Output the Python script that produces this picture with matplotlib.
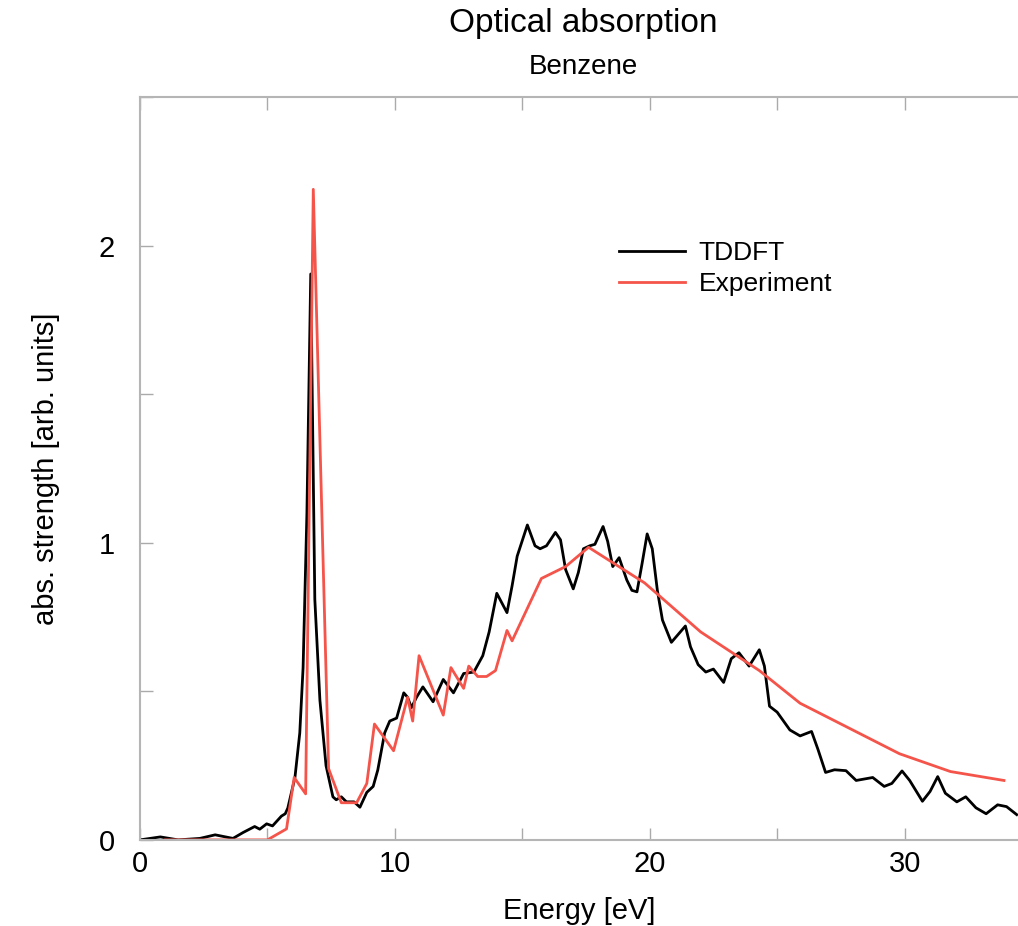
import numpy as np
import matplotlib
matplotlib.use("Agg")
import matplotlib.pyplot as plt
from matplotlib.ticker import MultipleLocator, NullFormatter

# TDDFT spectrum (black)
tddft_e = [0.0, 0.8, 1.5, 2.35, 2.95, 3.65, 4.05, 4.5, 4.7, 4.97, 5.2, 5.55, 5.7,
           5.8, 6.08, 6.27, 6.4, 6.55, 6.7, 6.86, 7.06, 7.3, 7.57, 7.7, 7.9, 8.1,
           8.4, 8.63, 8.9, 9.15, 9.33, 9.6, 9.8, 10.07, 10.35, 10.5, 10.65, 10.85,
           11.1, 11.5, 11.9, 12.3, 12.7, 13.1, 13.45, 13.7, 14.0, 14.4, 14.6, 14.8,
           15.2, 15.5, 15.7, 15.95, 16.3, 16.5, 16.7, 17.0, 17.2, 17.4, 17.65,
           17.85, 18.17, 18.35, 18.55, 18.8, 19.1, 19.3, 19.5, 19.7, 19.9, 20.1,
           20.3, 20.5, 20.85, 21.05, 21.4, 21.6, 21.9, 22.2, 22.5, 22.9, 23.2, 23.5,
           23.9, 24.3, 24.5, 24.7, 25.0, 25.5, 25.9, 26.35, 26.6, 26.9, 27.25,
           27.7, 28.1, 28.75, 29.2, 29.5, 29.9, 30.2, 30.7, 31.0, 31.3, 31.6,
           32.05, 32.4, 32.8, 33.2, 33.65, 34.0, 34.4]
tddft_a = [0.0, 0.01, 0.0, 0.005, 0.017, 0.005, 0.025, 0.045, 0.036, 0.054, 0.047,
           0.08, 0.088, 0.107, 0.21, 0.36, 0.58, 1.1, 1.905, 0.81, 0.47, 0.25,
           0.145, 0.135, 0.145, 0.128, 0.128, 0.11, 0.16, 0.18, 0.235, 0.36, 0.40,
           0.41, 0.495, 0.48, 0.445, 0.48, 0.515, 0.465, 0.54, 0.495, 0.56, 0.565,
           0.62, 0.70, 0.83, 0.765, 0.855, 0.955, 1.06, 0.99, 0.98, 0.99, 1.035,
           1.01, 0.91, 0.845, 0.9, 0.98, 0.99, 0.995, 1.055, 1.005, 0.92, 0.95,
           0.875, 0.84, 0.835, 0.93, 1.03, 0.98, 0.84, 0.74, 0.665, 0.685, 0.72,
           0.65, 0.59, 0.565, 0.575, 0.53, 0.61, 0.63, 0.585, 0.64, 0.585, 0.45,
           0.43, 0.37, 0.35, 0.365, 0.305, 0.227, 0.236, 0.233, 0.2, 0.21, 0.18,
           0.19, 0.232, 0.2, 0.13, 0.163, 0.213, 0.157, 0.128, 0.145, 0.108,
           0.088, 0.118, 0.112, 0.085]

# Experimental spectrum (red)
exp_e = [1.0, 5.0, 5.75, 6.05, 6.5, 6.8, 7.4, 7.9, 8.5, 8.9, 9.2, 9.95, 10.5,
         10.7, 10.95, 11.9, 12.2, 12.7, 12.9, 13.25, 13.6, 13.95, 14.4, 14.6,
         15.75, 16.7, 17.6, 19.8, 22.0, 24.3, 25.9, 29.8, 31.8, 33.9]
exp_a = [0.0, 0.0, 0.037, 0.21, 0.155, 2.19, 0.24, 0.125, 0.125, 0.19, 0.39,
         0.30, 0.48, 0.40, 0.62, 0.42, 0.58, 0.51, 0.585, 0.55, 0.55, 0.57,
         0.705, 0.67, 0.88, 0.92, 0.985, 0.865, 0.70, 0.57, 0.46, 0.29, 0.23, 0.20]

plt.rcParams['font.family'] = ['Liberation Sans', 'DejaVu Sans']

fig = plt.figure(figsize=(10.18, 9.26), dpi=100)
ax = fig.add_axes([0.1375, 0.093, 0.8625, 0.802])

ax.plot(tddft_e, tddft_a, color='black', lw=2, solid_joinstyle='round', label='TDDFT')
ax.plot(exp_e, exp_a, color='#f4544a', lw=2, solid_joinstyle='round', label='Experiment')

ax.set_xlim(0, 34.45)
ax.set_ylim(0, 2.5)

ax.xaxis.set_major_locator(MultipleLocator(10))
ax.xaxis.set_minor_locator(MultipleLocator(5))
ax.yaxis.set_major_locator(MultipleLocator(1))
ax.yaxis.set_minor_locator(MultipleLocator(0.5))
ax.xaxis.set_minor_formatter(NullFormatter())
ax.yaxis.set_minor_formatter(NullFormatter())

ax.tick_params(which='both', direction='in', length=9, width=1, color='#aaaaaa',
               top=True, right=False, labelsize=21)
ax.tick_params(axis='x', pad=7)
ax.tick_params(axis='y', pad=18)

for side in ['left', 'top', 'bottom']:
    ax.spines[side].set_color('#b5b5b5')
    ax.spines[side].set_linewidth(1.5)
ax.spines['right'].set_visible(False)

ax.set_xlabel('Energy [eV]', fontsize=21, labelpad=14)
ax.set_ylabel('abs. strength [arb. units]', fontsize=21, labelpad=28)

fig.text(0.573, 0.975, 'Optical absorption', ha='center', va='center', fontsize=24)
fig.text(0.573, 0.928, 'Benzene', ha='center', va='center', fontsize=20)

ax.legend(loc='upper left', bbox_to_anchor=(0.585, 0.765), bbox_transform=fig.transFigure,
          frameon=False, fontsize=19, handlelength=2.5, handletextpad=0.5,
          labelspacing=0.25)

fig.savefig('out.png', dpi=100)
